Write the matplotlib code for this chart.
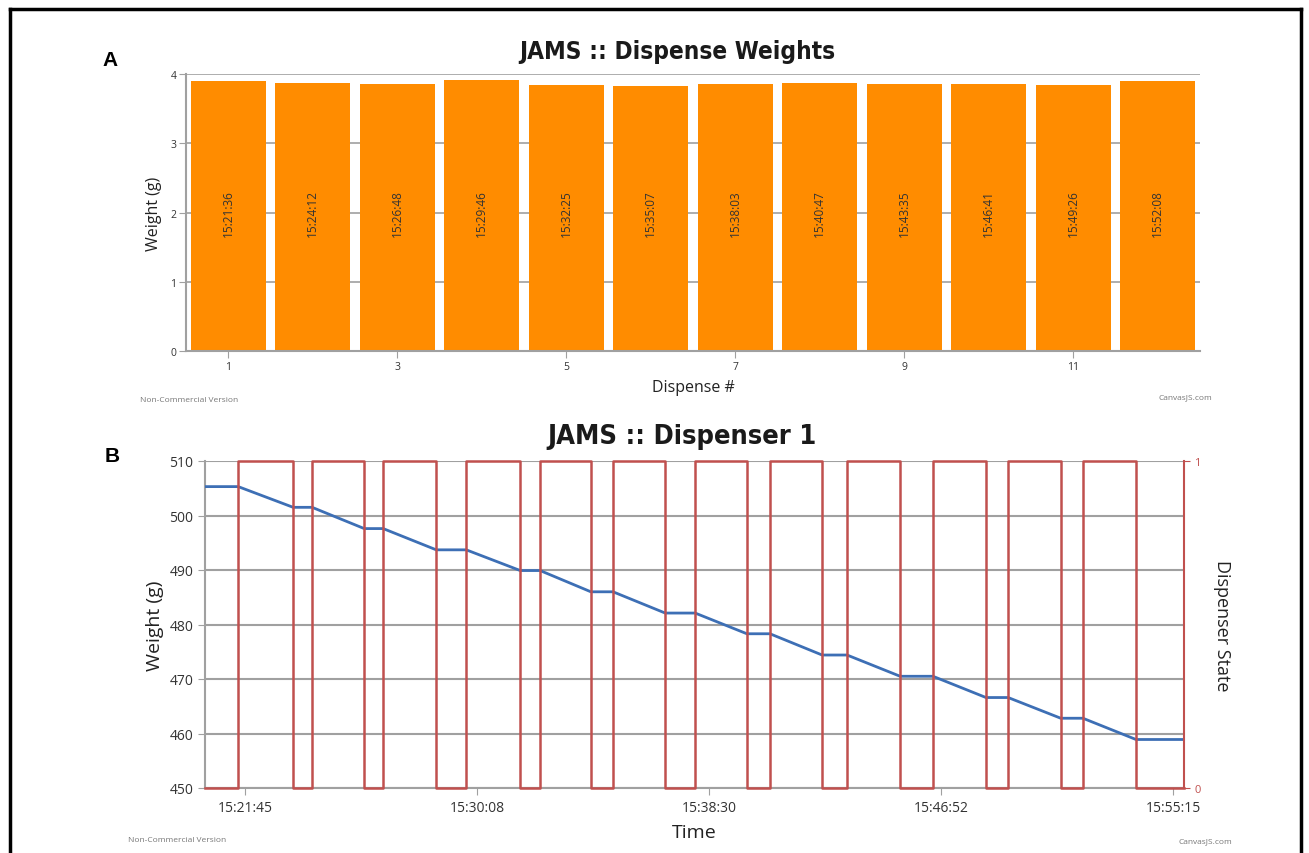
import numpy as np
import matplotlib
matplotlib.use("Agg")
import matplotlib.pyplot as plt
from matplotlib.lines import Line2D
from matplotlib import font_manager

plt.rcParams['font.family'] = ['Open Sans', 'DejaVu Sans']

# ---- data: panel A (dispense weights) ----
dispense_no = np.arange(1, 13)
dispense_weight = [3.90, 3.87, 3.86, 3.92, 3.84, 3.83, 3.86, 3.87, 3.86, 3.86, 3.84, 3.90]
dispense_time = ['15:21:36', '15:24:12', '15:26:48', '15:29:46', '15:32:25', '15:35:07',
                 '15:38:03', '15:40:47', '15:43:35', '15:46:41', '15:49:26', '15:52:08']

# ---- data: panel B (dispenser 1) ----
state_time = ['15:20:18', '15:21:30', '15:23:29', '15:24:10', '15:26:03', '15:26:44',
              '15:28:39', '15:29:44', '15:31:41', '15:32:24', '15:34:14', '15:35:02',
              '15:36:55', '15:38:00', '15:39:52', '15:40:42', '15:42:35', '15:43:29',
              '15:45:24', '15:46:35', '15:48:30', '15:49:18', '15:51:12', '15:52:00',
              '15:53:55', '15:55:39']
state_value = [0, 1, 0, 1, 0, 1, 0, 1, 0, 1, 0, 1, 0, 1, 0, 1, 0, 1, 0, 1, 0, 1, 0, 1, 0, 0]

weight_time = state_time
weight_value = [505.3, 505.3, 501.5, 501.5, 497.6, 497.6, 493.7, 493.7, 489.9, 489.9,
                486.0, 486.0, 482.1, 482.1, 478.3, 478.3, 474.4, 474.4, 470.5, 470.5,
                466.6, 466.6, 462.8, 462.8, 458.9, 458.9]

time_ticks = ['15:21:45', '15:30:08', '15:38:30', '15:46:52', '15:55:15']


def to_sec(s):
    h, m, sec = s.split(':')
    return int(h) * 3600 + int(m) * 60 + int(sec)


grid_c = '#a0a0a0'
orange = '#ff8c00'
blue = '#3d6fb5'
red = '#c0504e'

# condensed heavy face for the titles, if one is around
names = {f.name for f in font_manager.fontManager.ttflist}
if 'DejaVu Sans Condensed' in names:
    title_font = dict(family='DejaVu Sans Condensed', weight='bold')
else:
    title_font = dict(family='DejaVu Sans', weight='bold', stretch='condensed')

W, H = 1309, 854
fig = plt.figure(figsize=(W / 100, H / 100), dpi=100)


def fx(px):
    return px / W


def fy(py):
    return 1 - py / H


# outer black frame
for xs, ys in [((10, 1301), (10, 10)), ((10, 10), (10, 860)), ((1301, 1301), (10, 860))]:
    fig.add_artist(Line2D([fx(x) for x in xs], [fy(y) for y in ys], color='black', lw=2.5))

# ---------------- panel A ----------------
ax = fig.add_axes([fx(186), fy(352), fx(1200) - fx(186), fy(75) - fy(352)])
ax.bar(dispense_no, dispense_weight, width=0.89, color=orange, zorder=2)
for n, t in zip(dispense_no, dispense_time):
    ax.text(n, 2.0, t, rotation=90, ha='center', va='center', fontsize=8.5, color='#333333', zorder=3)
ax.set_xlim(0.5, 12.5)
ax.set_ylim(0, 4)
ax.set_yticks([0, 1, 2, 3, 4])
ax.set_xticks([1, 3, 5, 7, 9, 11])
ax.yaxis.grid(True, color=grid_c, lw=1.2, zorder=1)
ax.set_axisbelow(True)
for s in ['top', 'right']:
    ax.spines[s].set_visible(False)
for s in ['left', 'bottom']:
    ax.spines[s].set_color(grid_c)
    ax.spines[s].set_linewidth(1.5)
ax.tick_params(colors=grid_c, labelcolor='#333333', labelsize=7.5, length=5, pad=2)
ax.set_ylabel('Weight (g)', fontsize=11.5, color='#222222', labelpad=6)
ax.set_xlabel('Dispense #', fontsize=11.5, color='#222222', labelpad=5)

fig.text(fx(677), fy(52), 'JAMS :: Dispense Weights', ha='center', va='center',
         fontsize=17.5, color='#1a1a1a', **title_font)
fig.text(fx(110), fy(60), 'A', ha='center', va='center', fontsize=15, weight='bold',
         family='Liberation Sans')
fig.text(fx(140), fy(400), 'Non-Commercial Version', ha='left', va='center', fontsize=6, color='#777777')
fig.text(fx(1212), fy(398), 'CanvasJS.com', ha='right', va='center', fontsize=6, color='#777777')

# ---------------- panel B ----------------
bx = fig.add_axes([fx(205), fy(789), fx(1184) - fx(205), fy(462) - fy(789)])
wt = [to_sec(t) for t in weight_time]
st = [to_sec(t) for t in state_time]
bx.plot(wt, weight_value, color=blue, lw=2, zorder=3)
bx.set_xlim(st[0], st[-1])
bx.set_ylim(450, 510)
bx.set_yticks(range(450, 511, 10))
bx.set_xticks([to_sec(t) for t in time_ticks])
bx.set_xticklabels(time_ticks)
bx.yaxis.grid(True, color=grid_c, lw=1.5, zorder=0)
bx.set_axisbelow(True)
bx.spines['top'].set_visible(False)
bx.spines['right'].set_visible(False)
for s in ['left', 'bottom']:
    bx.spines[s].set_color(grid_c)
    bx.spines[s].set_linewidth(1.5)
bx.tick_params(colors=grid_c, labelcolor='#333333', labelsize=10, length=5)
bx.set_ylabel('Weight (g)', fontsize=14, color='#222222', labelpad=4)
bx.set_xlabel('Time', fontsize=14, color='#222222', labelpad=6)

sx = bx.twinx()
sx.step(st, state_value, where='post', color=red, lw=1.8, clip_on=False, zorder=4)
sx.set_ylim(0, 1)
sx.set_yticks([0, 1])
sx.set_xlim(st[0], st[-1])
for s in ['top', 'left', 'bottom']:
    sx.spines[s].set_visible(False)
sx.spines['right'].set_color(red)
sx.spines['right'].set_linewidth(1.5)
sx.tick_params(colors=red, labelcolor=red, labelsize=8, length=4)
sx.set_ylabel('Dispenser State', fontsize=13, color='#222222', rotation=270, labelpad=22)

fig.text(fx(682), fy(437), 'JAMS :: Dispenser 1', ha='center', va='center',
         fontsize=19.5, color='#1a1a1a', **title_font)
fig.text(fx(112), fy(457), 'B', ha='center', va='center', fontsize=15, weight='bold',
         family='Liberation Sans')
fig.text(fx(128), fy(841), 'Non-Commercial Version', ha='left', va='center', fontsize=6, color='#777777')
fig.text(fx(1232), fy(842), 'CanvasJS.com', ha='right', va='center', fontsize=6, color='#777777')

fig.savefig('out.png', dpi=100)
